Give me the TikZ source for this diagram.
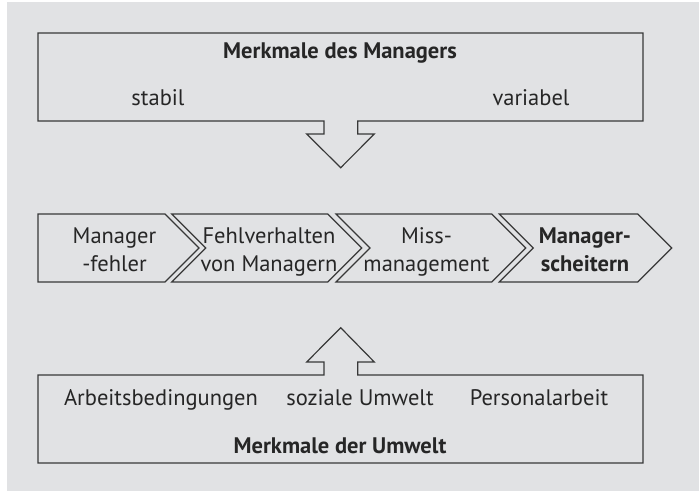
\documentclass[tikz,border=0pt]{standalone}
\usepackage{fontspec}
\setmainfont{PT Sans}
\usepackage{tikz}
\usetikzlibrary{
  positioning
}
\definecolor{bggray}{HTML}{E1E2E4}
\definecolor{linegray}{HTML}{383838}
\definecolor{textgray}{HTML}{262626}

\begin{document}
\begin{tikzpicture}[x=1pt,y=-1pt,
  lbl/.style={text=textgray,inner sep=0pt,anchor=base,align=center,font=\fontsize{22.5}{28}\selectfont},
  hdr/.style={lbl,font=\fontsize{22.5}{28}\selectfont\bfseries},
  outline/.style={draw=linegray,line width=1.2pt,line join=miter}]
\useasboundingbox (0,0) rectangle (699,491);
\fill[bggray] (7,2) rectangle (699,491);

% Merkmale des Managers, with arrow down
\draw[outline] (324,121) -- (38,121) -- (38,33) -- (643,33) -- (643,121) -- (357.7,121)
  -- (357.7,134) -- (374.3,134) -- (340.7,167.7) -- (306.7,134) -- (324,134) -- cycle;
\node[hdr] (mgrtitle) at (340,58) {Merkmale des Managers};
\node[lbl] (stabil) at (158,105) {stabil};
\node[lbl] (variabel) at (531,105) {variabel};

% chain of chevrons
\draw[outline] (38,214) -- (165,214) -- (199,248) -- (165,282) -- (38,282) -- cycle;
\foreach \x/\w in {171.7/156, 336/155.7, 499.3/138.4}
  \draw[outline] (\x,214) -- ++(\w,0) -- ++(34,34) -- ++(-34,34) -- ++(-\w,0) -- ++(34,-34) -- cycle;
\node[lbl] (fehler) at (114.5,271) {Manager\\-fehler};
\node[lbl] (verhalten) at (269,271) {Fehlverhalten\\von Managern};
\node[lbl] (missmgmt) at (426.5,271) {Miss-\\management};
\node[hdr] (scheitern) at (585,271) {Manager-\\scheitern};

% Merkmale der Umwelt, with arrow up
\draw[outline] (324,375) -- (38,375) -- (38,463) -- (643,463) -- (643,375) -- (357.7,375)
  -- (357.7,362) -- (374.3,362) -- (340.7,327.7) -- (306.7,362) -- (324,362) -- cycle;
\node[lbl] (arbeit) at (161,405.7) {Arbeitsbedingungen};
\node[lbl] (sozial) at (360,405.7) {soziale Umwelt};
\node[lbl] (personal) at (539,405.7) {Personalarbeit};
\node[hdr] (umwtitle) at (340,453.3) {Merkmale der Umwelt};
\end{tikzpicture}
\end{document}
